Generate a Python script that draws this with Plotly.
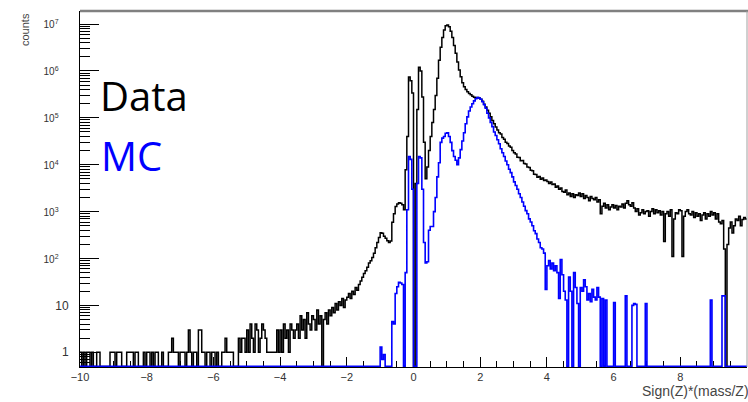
import numpy as np
import plotly.graph_objects as go

# Histogram binning: 400 bins of width 0.05 on [-10, 10]
BIN_LO, BIN_HI, N_BINS = -10.0, 10.0, 400

# Data counts per bin, one row = 10 bins (0.5 units), starting at -10
data_counts = [
    1, 0, 1, 0, 1, 1, 0, 1, 0, 0,
    1, 1, 0, 0, 0, 0, 0, 0, 1, 1,
    1, 0, 1, 1, 1, 0, 0, 0, 1, 1,
    1, 1, 0, 1, 1, 0, 0, 0, 1, 0,
    1, 1, 0, 1, 0, 1, 1, 0, 0, 1,
    0, 0, 0, 1, 1, 2, 1, 1, 1, 0,
    1, 1, 1, 0, 1, 3, 1, 0, 1, 1,
    0, 3, 3, 1, 1, 0, 1, 1, 0, 1,
    1, 0, 1, 0, 0, 1, 1, 2, 1, 1,
    1, 1, 0, 0, 0, 2, 1, 2, 2, 1,
    3, 1, 4, 2, 1, 4, 3, 1, 2, 4,
    3, 2, 1, 1, 1, 1, 1, 1, 3, 1,
    3, 1, 4, 2, 3, 1, 4, 3, 2, 3,
    4, 2, 6, 3, 5, 2, 7, 4, 3, 6,
    5, 3, 8, 4, 6, 0, 5, 7, 4, 8,
    6, 9, 7, 11, 8, 12, 10, 14, 9, 13,
    15, 18, 14, 20, 17, 24, 21, 28, 33, 40,
    48, 55, 65, 80, 90, 105, 130, 170, 220, 280,
    355, 345, 300, 270, 240, 220, 235, 590, 900, 1290,
    1450, 1550, 1500, 1400, 1100, 7800, 40000, 740000, 620000, 340000,
    0, 4000, 150000, 1200000, 1000000, 280000, 30000, 5000, 9000, 20000,
    40000, 80000, 150000, 300000, 700000, 1700000, 3200000, 5200000, 7500000, 9200000,
    9500000, 8800000, 7000000, 5200000, 3500000, 2400000, 1550000, 1050000, 750000, 560000,
    460000, 400000, 360000, 330000, 310000, 290000, 275000, 265000, 270000, 265000,
    250000, 225000, 195000, 170000, 145000, 125000, 105000, 88000, 75000, 64000,
    55000, 48000, 45000, 38000, 35000, 30000, 28500, 25000, 23500, 20000,
    18000, 17000, 14500, 14200, 12200, 12300, 10600, 10400, 8900, 8700,
    7600, 7400, 6300, 6200, 5400, 5600, 4900, 5200, 4600, 4700,
    4400, 4000, 4300, 3800, 3900, 3300, 3500, 3000, 3200, 2700,
    2600, 2900, 2300, 2500, 2100, 2400, 2000, 2300, 2200, 2500,
    2100, 2400, 1900, 2200, 2000, 1700, 2100, 1900, 1800, 2000,
    1600, 1800, 900, 1300, 1500, 1200, 1400, 1100, 1250, 1400,
    1200, 1350, 1100, 1300, 1250, 1450, 1200, 1500, 1700, 1400,
    1300, 1550, 1200, 1000, 1150, 850, 950, 1100, 900, 1000,
    1050, 800, 1000, 1150, 900, 1100, 950, 1050, 850, 1000,
    230, 900, 1000, 800, 1100, 110, 700, 950, 900, 1100,
    1050, 110, 800, 1000, 1100, 900, 850, 1000, 750, 950,
    800, 900, 650, 850, 950, 700, 900, 800, 1000, 850,
    950, 700, 900, 600, 550, 650, 160, 0, 200, 450,
    600, 350, 500, 700, 650, 800, 500, 680, 750, 700,
]

# Simulated (MC) counts per bin, same binning
mc_counts = [
    0, 0, 0, 0, 0, 0, 0, 0, 0, 0, 0, 0, 0, 0, 0, 0, 0, 0, 0, 0,
    0, 0, 0, 0, 0, 0, 0, 0, 0, 0, 0, 0, 0, 0, 0, 0, 0, 0, 0, 0,
    0, 0, 0, 0, 0, 0, 0, 0, 0, 0, 0, 0, 0, 0, 0, 0, 0, 0, 0, 0,
    0, 0, 0, 0, 0, 0, 0, 0, 0, 0, 0, 0, 0, 0, 0, 0, 0, 0, 0, 0,
    0, 0, 0, 0, 0, 0, 0, 0, 0, 0, 0, 0, 0, 0, 0, 0, 0, 0, 0, 0,
    0, 0, 0, 0, 0, 0, 0, 0, 0, 0, 0, 0, 0, 0, 0, 0, 0, 0, 0, 0,
    0, 0, 0, 0, 0, 0, 0, 0, 0, 0, 0, 0, 0, 0, 0, 0, 0, 0, 0, 0,
    0, 0, 0, 0, 0, 0, 0, 0, 0, 0, 0, 0, 0, 0, 0, 0, 0, 0, 0, 0,
    0, 0, 0, 0, 0, 0, 0, 0, 0, 0, 0, 0, 0, 0, 0, 0, 0, 0, 0, 0,
    1.3, 0.7, 0.9, 0, 0, 0, 0, 4.5, 4, 18,
    25, 31, 30, 28, 0, 50, 1100, 15000, 13000, 3000,
    0, 0, 4000, 15000, 14000, 3000, 220, 80, 85, 400,
    480, 480, 1000, 2000, 5500, 11000, 30000, 37000, 40000, 47000,
    48000, 40000, 30000, 20000, 15000, 12500, 10000, 14000, 21000, 32000,
    48000, 75000, 105000, 140000, 170000, 200000, 230000, 255000, 270000, 265000,
    250000, 220000, 190000, 160000, 125000, 100000, 80000, 65000, 50000, 42000,
    34000, 28000, 22000, 18000, 15000, 12000, 10000, 8000, 6800, 5500,
    4300, 3600, 3000, 2400, 2000, 1600, 1300, 1050, 900, 700,
    600, 500, 390, 340, 260, 220, 170, 160, 130, 22,
    70, 90, 60, 80, 55, 70, 50, 14, 95, 45,
    20, 13, 0, 40, 20, 0, 50, 24, 11, 0,
    24, 20, 35, 25, 13, 18, 12, 22, 15, 13,
    24, 15, 0, 14, 0, 13, 0, 0, 0, 0,
    11.5, 0, 0, 0, 0, 0, 0, 16, 0, 0,
    0, 10, 11, 10.5, 0, 0, 0, 0, 0, 11,
    0, 0, 0, 0, 0, 0, 0, 0, 0, 0,
    0, 0, 0, 0, 0, 0, 0, 0, 0, 0,
    0, 0, 0, 0, 0, 0, 0, 0, 0, 0,
    0, 0, 0, 0, 0, 0, 0, 0, 13, 0,
    0, 0, 0, 0, 0, 16, 16, 0, 0, 0,
    0, 0, 0, 0, 0, 0, 0, 0, 0, 0,
]

x_tick_vals = [-10, -8, -6, -4, -2, 0, 2, 4, 6, 8, 10]
y_tick_vals = [1, 10, 1e2, 1e3, 1e4, 1e5, 1e6, 1e7]
NB = "\u00a0"
y_tick_text = ["1", "10"] + [
    f'<span style="font-size:10px">10<sup>{k}</sup></span>' + NB * 3 for k in range(2, 8)
]

Y_FLOOR = 0.5    # empty bins are drawn on the bottom of the frame
Y_MAX = 1.9e7
DECADE_PX = 47.0

edges = np.linspace(BIN_LO, BIN_HI, N_BINS + 1)


def step_values(counts):
    c = np.asarray(counts, dtype=float)
    c = np.where(c > 0, c, Y_FLOOR)
    return np.append(c, c[-1])


x_minor = [v for v in np.arange(-10, 10.01, 0.5) if abs(v - round(v / 2) * 2) > 1e-6]
y_minor = [m * 10.0 ** k for k in range(-1, 7) for m in range(2, 10) if m * 10.0 ** k > Y_FLOOR]

fig = go.Figure()
fig.add_trace(go.Scatter(
    x=edges, y=step_values(data_counts), mode="lines",
    line=dict(shape="hv", color="black", width=1.5),
    hoverinfo="skip", showlegend=False,
))
fig.add_trace(go.Scatter(
    x=edges, y=step_values(mc_counts), mode="lines",
    line=dict(shape="hv", color="#0000ff", width=1.6),
    hoverinfo="skip", showlegend=False,
))

L, R, T, B = 80, 1, 11, 35
W, H = 748, 402
pw, ph = W - L - R, H - T - B


def xp(px):
    return (px - L) / pw


def yp(py):
    return (H - B - py) / ph


axis_font = dict(family="Liberation Sans, Arial, sans-serif", size=11, color="#333333")
y_font = dict(family="Liberation Sans, Arial, sans-serif", size=12, color="#333333")

fig.update_layout(
    width=W, height=H, autosize=False,
    margin=dict(l=L, r=R, t=T, b=B, pad=0),
    paper_bgcolor="white", plot_bgcolor="white",
    xaxis=dict(
        range=[BIN_LO, BIN_HI], showgrid=False, zeroline=False,
        showline=True, linecolor="black", linewidth=1, layer="below traces",
        ticks="inside", ticklen=10, tickwidth=1, tickcolor="black",
        tickmode="array", tickvals=x_tick_vals, tickfont=axis_font,
        minor=dict(tickmode="array", tickvals=x_minor, ticks="inside",
                   ticklen=6, tickwidth=1, tickcolor="black", showgrid=False),
    ),
    yaxis=dict(
        type="log",
        range=[np.log10(Y_FLOOR) - 0.6 / DECADE_PX, np.log10(Y_MAX)],
        showgrid=False, zeroline=False,
        showline=True, linecolor="black", linewidth=1,
        ticks="inside", ticklen=19, tickwidth=1, tickcolor="black",
        tickmode="array", tickvals=y_tick_vals, ticktext=y_tick_text,
        tickfont=y_font, ticklabelstandoff=8,
        minor=dict(tickmode="array", tickvals=y_minor, ticks="inside",
                   ticklen=10, tickwidth=1, tickcolor="black", showgrid=False),
    ),
    shapes=[
        dict(type="line", xref="paper", yref="paper", x0=0, x1=1.02, y0=1, y1=1,
             line=dict(color="#808080", width=2.5)),
        dict(type="line", xref="paper", yref="paper", x0=1, x1=1, y0=0, y1=1,
             line=dict(color="#a0a0a0", width=1)),
    ],
    annotations=[
        dict(text="Data", xref="paper", yref="paper", x=xp(98), y=yp(96),
             xanchor="left", yanchor="middle", showarrow=False,
             font=dict(family="Open Sans, sans-serif", size=40, color="black")),
        dict(text="MC", xref="paper", yref="paper", x=xp(99), y=yp(155),
             xanchor="left", yanchor="middle", showarrow=False,
             font=dict(family="Open Sans, sans-serif", size=40, color="#0000ff")),
        dict(text="counts", xref="paper", yref="paper", x=xp(25), y=yp(30),
             xanchor="center", yanchor="middle", textangle=-90, showarrow=False,
             font=dict(family="Liberation Sans, Arial, sans-serif", size=11, color="#444444")),
        dict(text="Sign(Z)*(mass/Z)", xref="paper", yref="paper", x=xp(751), y=yp(391),
             xanchor="right", yanchor="middle", showarrow=False,
             font=dict(family="Liberation Sans, Arial, sans-serif", size=14, color="#444444")),
    ],
)

fig.write_html("out.html")
